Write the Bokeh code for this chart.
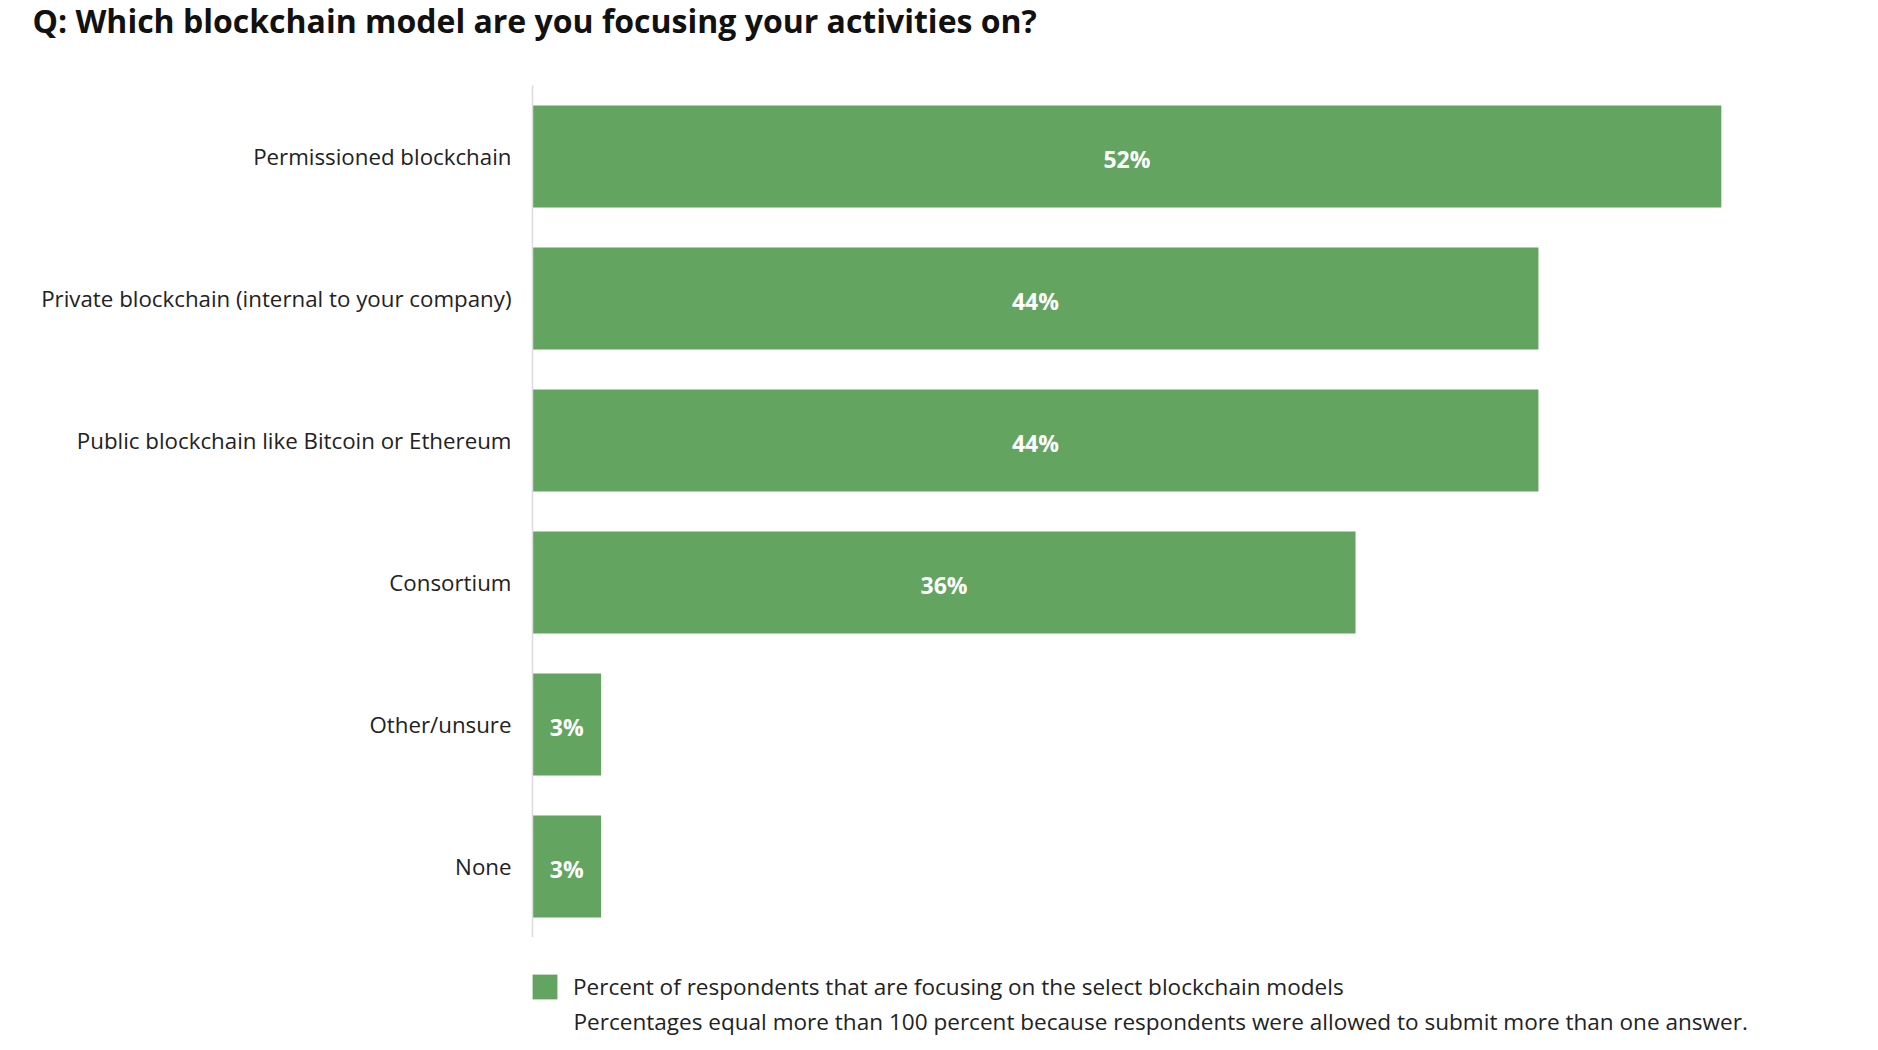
from bokeh.plotting import figure
from bokeh.layouts import column
from bokeh.models import ColumnDataSource, FactorRange, Range1d, Label, Legend, LegendItem
from bokeh.core.properties import value
from bokeh.embed import file_html
from bokeh.resources import INLINE

# ---- data ----
categories = [
    "Permissioned blockchain",
    "Private blockchain (internal to your company)",
    "Public blockchain like Bitcoin or Ethereum",
    "Consortium",
    "Other/unsure",
    "None",
]
percent_values = [52, 44, 44, 36, 3, 3]
title_text = "Q: Which blockchain model are you focusing your activities on?"
legend_text = "Percent of respondents that are focusing on the select blockchain models"
note_text = "Percentages equal more than 100 percent because respondents were allowed to submit more than one answer."

GREEN = "#63a461"
FONT = "Open Sans"
TXT = "#222222"
W = 1862


def bare(fig):
    fig.outline_line_color = None
    fig.xgrid.visible = False
    fig.ygrid.visible = False
    fig.background_fill_color = "white"
    fig.border_fill_color = "white"
    return fig


# ---- title strip ----
top = bare(figure(width=W, height=85, x_range=Range1d(0, W), y_range=Range1d(0, 85),
                  x_axis_location=None, y_axis_location=None, frame_align=False,
                  min_border=0, output_backend="svg", toolbar_location=None))
top.add_layout(Label(x=32, y=65, x_units="screen", y_units="screen",
                     text=title_text, text_font=FONT, text_font_style="bold",
                     text_font_size="32px", text_color="#111111",
                     text_baseline="alphabetic", text_align="left"))

# ---- main bar chart ----
src = ColumnDataSource(dict(
    cat=categories,
    val=percent_values,
    mid=[v / 2 for v in percent_values],
    lab=[f"{v}%" for v in percent_values],
))

p = bare(figure(
    width=W, height=852,
    y_range=FactorRange(factors=list(reversed(categories))),
    x_range=Range1d(0, 58),
    x_axis_location=None, frame_align=False,
    output_backend="svg", toolbar_location=None,
    min_border_left=532, min_border_right=4,
    min_border_top=0, min_border_bottom=0,
))

p.hbar(y="cat", right="val", left=0, height=0.72, source=src,
       fill_color=GREEN, line_color=None)

p.text(x="mid", y="cat", text="lab", source=src,
       text_align="center", text_baseline="middle", y_offset=2,
       text_color="white", text_font=value(FONT), text_font_style="bold",
       text_font_size="23px")

ax = p.yaxis[0]
ax.axis_line_color = "#dcdcdc"
ax.axis_line_width = 1.5
ax.major_tick_line_color = None
ax.minor_tick_line_color = None
ax.major_tick_out = 0
ax.major_tick_in = 0
ax.major_label_standoff = 21
ax.major_label_text_font = FONT
ax.major_label_text_font_size = "22.3px"
ax.major_label_text_color = TXT

# ---- legend strip ----
bot = bare(figure(width=W, height=105, x_range=Range1d(0, 1), y_range=Range1d(0, 1),
                  x_axis_location=None, y_axis_location=None, frame_align=False,
                  min_border=0, output_backend="svg", toolbar_location=None))
# zero-size bar that only carries the legend key style
swatch = bot.hbar(y=[0], left=[0], right=[0], height=0,
                  fill_color=GREEN, line_color=None)
legend = Legend(items=[LegendItem(label=legend_text, renderers=[swatch])],
                location=(529, 40), orientation="vertical",
                glyph_width=31, glyph_height=31, label_standoff=13,
                padding=0, margin=0, spacing=0,
                border_line_color=None, background_fill_alpha=0,
                label_text_font=FONT, label_text_font_size="22.55px",
                label_text_color=TXT)
bot.add_layout(legend, "center")
bot.add_layout(Label(x=573, y=21, x_units="screen", y_units="screen",
                     text=note_text, text_font=FONT, text_font_size="22.55px",
                     text_color=TXT, text_baseline="alphabetic",
                     text_align="left"))

layout = column(top, p, bot, spacing=0)
open("out.html", "w").write(file_html(layout, INLINE))
